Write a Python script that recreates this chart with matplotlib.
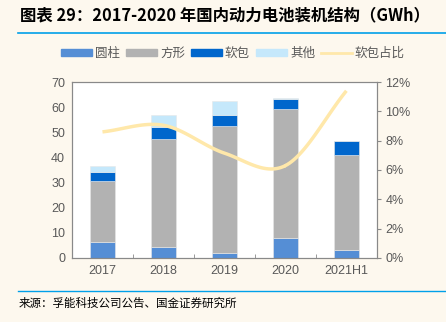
import numpy as np
import matplotlib
matplotlib.use('Agg')
import matplotlib.pyplot as plt
from matplotlib.patches import Patch
from matplotlib.lines import Line2D

plt.rcParams['font.family'] = ['Liberation Sans', 'Noto Sans CJK SC', 'DejaVu Sans']

categories = ['2017', '2018', '2019', '2020', '2021H1']
cylinder = [6.4, 4.5, 2.1, 8.0, 3.0]        # 圆柱
prismatic = [24.3, 42.8, 50.5, 51.1, 38.1]  # 方形
pouch = [3.6, 4.9, 4.3, 4.0, 5.6]           # 软包
other = [2.3, 4.7, 5.5, 0.5, 0.0]           # 其他
pouch_share = [8.6, 9.05, 7.15, 6.3, 11.4]  # 软包占比 %

bg = '#FDF8EE'
c_cyl = '#558ED5'
c_pri = '#B2B2B2'
c_pou = '#0066CC'
c_oth = '#C5E8FB'
c_line = '#FFE8AA'
txt = '#595959'
spine_c = '#898989'
cjk = ['Noto Sans CJK SC', 'DejaVu Sans']


def smooth(x, y, n=30):
    # catmull-rom like excel smoothed line
    x = np.asarray(x, float)
    y = np.asarray(y, float)
    px = np.concatenate([[2 * x[0] - x[1]], x, [2 * x[-1] - x[-2]]])
    py = np.concatenate([[2 * y[0] - y[1]], y, [2 * y[-1] - y[-2]]])
    xs, ys = [], []
    for i in range(1, len(px) - 2):
        t = np.linspace(0, 1, n)
        for p, out in ((px, xs), (py, ys)):
            p0, p1, p2, p3 = p[i - 1], p[i], p[i + 1], p[i + 2]
            out.append(0.5 * ((2 * p1) + (-p0 + p2) * t
                              + (2 * p0 - 5 * p1 + 4 * p2 - p3) * t ** 2
                              + (-p0 + 3 * p1 - 3 * p2 + p3) * t ** 3))
    return np.concatenate(xs), np.concatenate(ys)


fig = plt.figure(figsize=(4.46, 3.22), dpi=100, facecolor=bg)
ax = fig.add_axes([0.1614, 0.1988, 0.6836, 0.5465])
ax.set_facecolor('white')

x = np.arange(len(categories))
w = 0.41
b1 = np.array(cylinder)
b2 = b1 + np.array(prismatic)
b3 = b2 + np.array(pouch)
ax.bar(x, cylinder, w, color=c_cyl, edgecolor='#E8E8E8', linewidth=0.4, zorder=2)
ax.bar(x, prismatic, w, bottom=b1, color=c_pri, edgecolor='#E8E8E8', linewidth=0.4, zorder=2)
ax.bar(x, pouch, w, bottom=b2, color=c_pou, edgecolor='#E8E8E8', linewidth=0.4, zorder=2)
ax.bar(x, other, w, bottom=b3, color=c_oth, edgecolor='#E8E8E8', linewidth=0.4, zorder=2)

ax.set_xlim(-0.5, 4.5)
ax.set_ylim(0, 70)
ax.set_yticks(range(0, 71, 10))
ax.set_xticks(x)
ax.set_xticklabels(categories)
ax.set_xticks(np.arange(0.5, 4, 1), minor=True)
ax.tick_params(axis='x', which='major', length=0, colors=txt, labelsize=9, pad=5)
ax.tick_params(axis='x', which='minor', length=3, direction='in', color=spine_c)
ax.tick_params(axis='y', length=0, colors=txt, labelsize=9, pad=5)
for s in ax.spines.values():
    s.set_color(spine_c)
    s.set_linewidth(0.8)

ax2 = ax.twinx()
sx, sy = smooth(x, pouch_share)
ax2.plot(sx, sy, color=c_line, linewidth=2.5, solid_capstyle='butt', zorder=3)
ax2.set_ylim(0, 12)
ax2.set_yticks(range(0, 13, 2))
ax2.set_yticklabels([f'{v}%' for v in range(0, 13, 2)])
ax2.tick_params(axis='y', length=3, color=spine_c, colors=txt, labelsize=9, pad=3)
for s in ax2.spines.values():
    s.set_color(spine_c)
    s.set_linewidth(0.8)

handles = [Patch(color=c_cyl), Patch(color=c_pri), Patch(color=c_pou), Patch(color=c_oth),
           Line2D([], [], color=c_line, linewidth=2)]
labels = ['圆柱', '方形', '软包', '其他', '软包占比']
fig.legend(handles, labels, loc='center', bbox_to_anchor=(0.522, 0.835), ncol=5, frameon=False,
           prop={'family': cjk, 'size': 9}, labelcolor=txt, handlelength=2.5, handleheight=0.45,
           handletextpad=0.25, columnspacing=0.45)

# title and frame lines
fig.text(0.045, 0.953, '图表 29：2017-2020 年国内动力电池装机结构（GWh）', fontsize=11.8,
         fontweight='bold', family=cjk, color='black', va='center', ha='left')
fig.add_artist(Line2D([0.04, 1.0], [0.899, 0.899], color='#00A0E9', linewidth=1.2))
fig.add_artist(Line2D([0.04, 1.0], [0.095, 0.095], color='#00A0E9', linewidth=1.0))
fig.text(0.042, 0.058, '来源：孚能科技公司公告、国金证券研究所', fontsize=8.3, family=cjk,
         color='black', va='center', ha='left')

fig.savefig('out.png', dpi=100, facecolor=bg)
